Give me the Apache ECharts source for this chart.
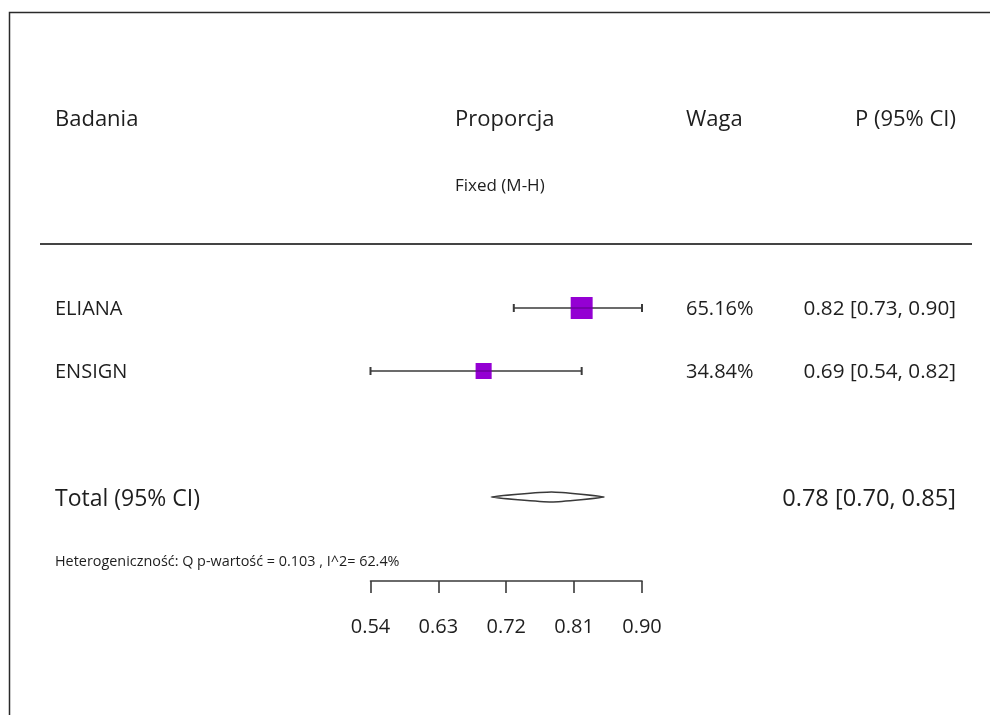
<!DOCTYPE html>
<html>
<head>
<meta charset="utf-8">
<title>Forest plot – Proporcja</title>
<script src="https://cdn.jsdelivr.net/npm/echarts@6/dist/echarts.min.js"></script>
<style>
  html, body { margin: 0; padding: 0; background: #fff; }
  #chart { width: 990px; height: 715px; }
</style>
</head>
<body>
<div id="chart"></div>
<script>
// Study-level results
const studies = ['ELIANA', 'ENSIGN'];
const estimates = [0.82, 0.69];
const lowerCI = [0.73, 0.54];
const upperCI = [0.90, 0.82];
const weights = [65.16, 34.84];
const studyRows = [0, 1];

// Pooled (fixed effect) result
const pooledLabel = 'Total (95% CI)';
const pooledEstimate = 0.78;
const pooledLower = 0.70;
const pooledUpper = 0.85;
const pooledRow = 3;

// Axis ticks
const tickValues = [0.54, 0.63, 0.72, 0.81, 0.90];
const tickLabels = ['0.54', '0.63', '0.72', '0.81', '0.90'];

// Header / footer text
const headers = ['Badania', 'Proporcja', 'Waga', 'P (95% CI)'];
const methodLabel = 'Fixed (M-H)';
const heterogeneityText = 'Heterogeniczność: Q p-wartość = 0.103 , I^2= 62.4%';

const FONT = '"Open Sans", "Noto Sans", sans-serif';
const INK = '#1e1e1e';
const LINE = '#3a3a3a';
const MARK = '#9400d3';
// Open Sans sits slightly high when middle-aligned; nudge text down a little
const TEXT_DY = 1.5;

const fmt = v => v.toFixed(2);

const chart = echarts.init(document.getElementById('chart'), null, { renderer: 'canvas' });

function renderStudy(params, api) {
  const i = params.dataIndex;
  const row = api.value(1);
  const pEst = api.coord([api.value(0), row]);
  const pLo = api.coord([api.value(2), row]);
  const pHi = api.coord([api.value(3), row]);
  const size = 2.72 * Math.sqrt(api.value(4));
  const y = pEst[1];
  const cap = 4;
  return {
    type: 'group',
    children: [
      { type: 'line', shape: { x1: pLo[0], y1: y, x2: pHi[0], y2: y },
        style: { stroke: LINE, lineWidth: 1.6 } },
      { type: 'line', shape: { x1: pLo[0], y1: y - cap, x2: pLo[0], y2: y + cap },
        style: { stroke: LINE, lineWidth: 2 } },
      { type: 'line', shape: { x1: pHi[0], y1: y - cap, x2: pHi[0], y2: y + cap },
        style: { stroke: LINE, lineWidth: 2 } },
      { type: 'rect', shape: { x: pEst[0] - size / 2, y: y - size / 2, width: size, height: size },
        style: { fill: MARK } },
      { type: 'line', shape: { x1: pEst[0] - size / 2, y1: y, x2: pEst[0] + size / 2, y2: y },
        style: { stroke: 'rgba(40,0,60,0.45)', lineWidth: 1.2 } },
      { type: 'text', x: 55, y: y + TEXT_DY,
        style: { text: studies[i], font: '20px ' + FONT, fill: INK, align: 'left', verticalAlign: 'middle' } },
      { type: 'text', x: 686, y: y + TEXT_DY,
        style: { text: fmt(weights[i]) + '%', font: '20px ' + FONT, fill: INK, align: 'left', verticalAlign: 'middle' } },
      { type: 'text', x: 956, y: y + TEXT_DY,
        style: { text: fmt(estimates[i]) + ' [' + fmt(lowerCI[i]) + ', ' + fmt(upperCI[i]) + ']',
                 font: '20.7px ' + FONT, fill: INK, align: 'right', verticalAlign: 'middle' } }
    ]
  };
}

function renderPooled(params, api) {
  const row = api.value(1);
  const pEst = api.coord([api.value(0), row]);
  const pLo = api.coord([api.value(2), row]);
  const pHi = api.coord([api.value(3), row]);
  const y = pEst[1];
  const half = 5;
  return {
    type: 'group',
    children: [
      { type: 'polygon',
        shape: { points: [[pLo[0], y], [pEst[0], y - half], [pHi[0], y], [pEst[0], y + half]], smooth: 0.15 },
        style: { fill: '#fff', stroke: LINE, lineWidth: 1.5 } },
      { type: 'text', x: 55, y: y + 2,
        style: { text: pooledLabel, font: '23px ' + FONT, fill: INK, align: 'left', verticalAlign: 'middle' } },
      { type: 'text', x: 956, y: y + 2,
        style: { text: fmt(api.value(0)) + ' [' + fmt(api.value(2)) + ', ' + fmt(api.value(3)) + ']',
                 font: '23.6px ' + FONT, fill: INK, align: 'right', verticalAlign: 'middle' } }
    ]
  };
}

const studyData = studies.map((s, i) => [estimates[i], studyRows[i], lowerCI[i], upperCI[i], weights[i]]);
const pooledData = [[pooledEstimate, pooledRow, pooledLower, pooledUpper]];

const option = {
  backgroundColor: '#fff',
  animation: false,
  grid: { left: 370.5, width: 271.5, top: 245, height: 336 },
  xAxis: {
    type: 'value',
    min: tickValues[0],
    max: tickValues[tickValues.length - 1],
    splitLine: { show: false },
    axisLine: { show: true, onZero: false, lineStyle: { color: LINE, width: 1.6 } },
    axisTick: { show: true, length: 12, inside: false, customValues: tickValues,
                lineStyle: { color: LINE, width: 1.6 } },
    axisLabel: {
      show: true, margin: 36, customValues: tickValues,
      formatter: v => tickLabels[tickValues.findIndex(t => Math.abs(t - v) < 1e-9)] ?? fmt(v),
      fontFamily: FONT, fontSize: 20, color: INK
    }
  },
  yAxis: {
    type: 'value', inverse: true, min: -1, max: 13 / 3, show: false
  },
  graphic: [
    { type: 'rect', shape: { x: 9.5, y: 12.5, width: 1000, height: 720 },
      style: { fill: 'none', stroke: '#2a2a2a', lineWidth: 1.5 }, z: 0 },
    { type: 'text', x: 55, y: 120,
      style: { text: headers[0], font: '22px ' + FONT, fill: INK, verticalAlign: 'middle' } },
    { type: 'text', x: 455, y: 120,
      style: { text: headers[1], font: '22px ' + FONT, fill: INK, verticalAlign: 'middle' } },
    { type: 'text', x: 686, y: 120,
      style: { text: headers[2], font: '22px ' + FONT, fill: INK, verticalAlign: 'middle' } },
    { type: 'text', x: 956, y: 120,
      style: { text: headers[3], font: '22px ' + FONT, fill: INK, align: 'right', verticalAlign: 'middle' } },
    { type: 'text', x: 455, y: 186.5,
      style: { text: methodLabel, font: '17px ' + FONT, fill: INK, verticalAlign: 'middle' } },
    { type: 'line', shape: { x1: 40, y1: 244, x2: 972, y2: 244 },
      style: { stroke: '#444', lineWidth: 2 } },
    { type: 'text', x: 55, y: 562,
      style: { text: heterogeneityText, font: '14.4px ' + FONT, fill: INK, verticalAlign: 'middle' } }
  ],
  series: [
    { type: 'custom', name: 'studies', renderItem: renderStudy, data: studyData, clip: false,
      encode: { x: [0, 2, 3], y: 1 } },
    { type: 'custom', name: 'pooled', renderItem: renderPooled, data: pooledData, clip: false,
      encode: { x: [0, 2, 3], y: 1 } }
  ]
};

chart.setOption(option);
</script>
</body>
</html>
